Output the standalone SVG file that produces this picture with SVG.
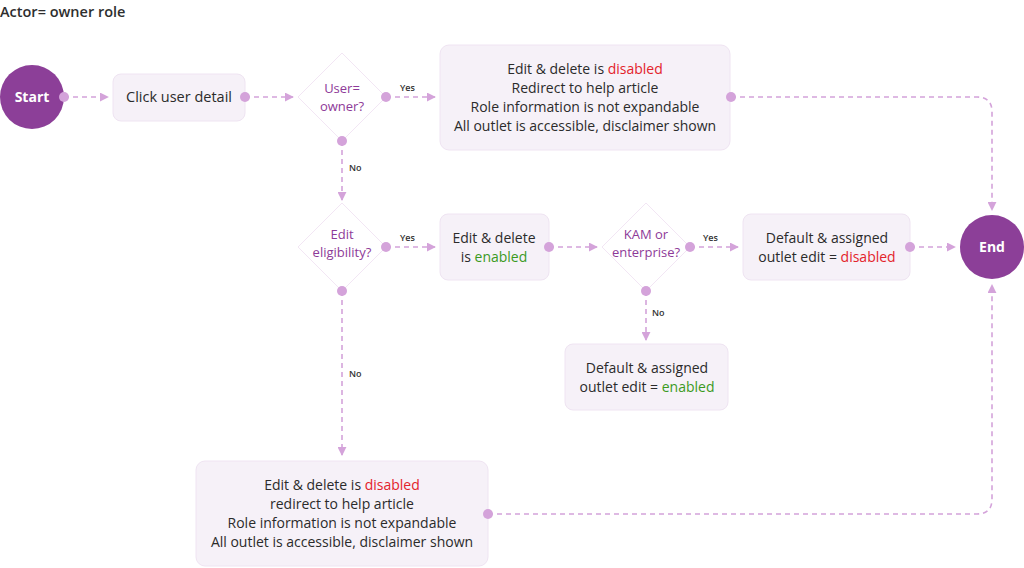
<svg xmlns="http://www.w3.org/2000/svg" width="1024" height="568" viewBox="0 0 1024 568">
<defs>
<marker id="arr" viewBox="0 0 10 10" refX="9" refY="5" markerWidth="9" markerHeight="9" markerUnits="userSpaceOnUse" orient="auto"><path d="M0,0 L10,5 L0,10 Z" fill="#d4a3da"/></marker>
<marker id="dot" viewBox="0 0 10 10" refX="5" refY="5" markerWidth="10" markerHeight="10" markerUnits="userSpaceOnUse"><circle cx="5" cy="5" r="5" fill="#d4a3da"/></marker>
</defs>
<style>
text{font-family:"Open Sans","Liberation Sans",sans-serif;}
.t{font-size:14px;fill:#2b2b2b;text-anchor:middle;}
.q{font-size:13px;fill:#8e3a98;text-anchor:middle;}
.lbl{font-size:9px;fill:#333;font-weight:600;}
.box{fill:#f6f1f8;stroke:#efe4f2;stroke-width:1;}
.dia{fill:#fff;stroke:#f2e6f4;stroke-width:1;}
.term{fill:#8c3f98;}
.tt{font-size:14px;fill:#fff;font-weight:700;text-anchor:middle;}
.c{fill:none;stroke:#d4a3da;stroke-width:1.6;stroke-dasharray:5 4;marker-start:url(#dot);marker-end:url(#arr);}
.red{fill:#e3232b;}
.grn{fill:#3b9a1e;}
</style>
<rect width="1024" height="568" fill="#fff"/>
<text x="0" y="17" style="font-size:14.5px;font-weight:600;fill:#2e2e2e">Actor= owner role</text>

<g id="start"><circle class="term" cx="32" cy="97" r="32"/><text class="tt" x="32" y="102">Start</text></g>

<g id="click"><rect class="box" x="113" y="74" width="132" height="47" rx="8"/><text class="t" x="179" y="102" style="font-size:14.5px">Click user detail</text></g>

<g id="d-owner"><path class="dia" d="M342,53 L386,97 L342,141 L298,97 Z"/>
<text class="q" x="342" y="93">User=</text><text class="q" x="342" y="111">owner?</text></g>

<g id="owner-yes"><rect class="box" x="440" y="45" width="290" height="105" rx="9"/>
<text class="t" x="585" y="74">Edit &amp; delete is <tspan class="red">disabled</tspan></text>
<text class="t" x="585" y="93">Redirect to help article</text>
<text class="t" x="585" y="112">Role information is not expandable</text>
<text class="t" x="585" y="131">All outlet is accessible, disclaimer shown</text></g>

<g id="d-elig"><path class="dia" d="M342,203 L386,247 L342,291 L298,247 Z"/>
<text class="q" x="342" y="239">Edit</text><text class="q" x="342" y="257">eligibility?</text></g>

<g id="enabled"><rect class="box" x="440" y="214" width="109" height="66" rx="8"/>
<text class="t" x="494" y="243">Edit &amp; delete</text>
<text class="t" x="494" y="262">is <tspan class="grn">enabled</tspan></text></g>

<g id="d-kam"><path class="dia" d="M646,203 L690,247 L646,291 L602,247 Z"/>
<text class="q" x="646" y="239">KAM or</text><text class="q" x="646" y="257">enterprise?</text></g>

<g id="kam-yes"><rect class="box" x="743" y="214" width="167" height="66" rx="8"/>
<text class="t" x="827" y="243">Default &amp; assigned</text>
<text class="t" x="827" y="262">outlet edit = <tspan class="red">disabled</tspan></text></g>

<g id="end"><circle class="term" cx="992" cy="247" r="32"/><text class="tt" x="992" y="252">End</text></g>

<g id="kam-no"><rect class="box" x="565" y="344" width="163" height="66" rx="8"/>
<text class="t" x="647" y="373">Default &amp; assigned</text>
<text class="t" x="647" y="392">outlet edit = <tspan class="grn">enabled</tspan></text></g>

<g id="elig-no"><rect class="box" x="196" y="461" width="292" height="105" rx="9"/>
<text class="t" x="342" y="490">Edit &amp; delete is <tspan class="red">disabled</tspan></text>
<text class="t" x="342" y="509">redirect to help article</text>
<text class="t" x="342" y="528">Role information is not expandable</text>
<text class="t" x="342" y="547">All outlet is accessible, disclaimer shown</text></g>

<g id="connectors">
<path class="c" d="M64,97 H108"/>
<path class="c" d="M245,97 H293"/>
<path class="c" d="M386,97 H435"/>
<path class="c" d="M731,97 H977 Q992,97 992,112 V210"/>
<path class="c" d="M342,141 V200"/>
<path class="c" d="M386,247 H435"/>
<path class="c" d="M549,247 H597"/>
<path class="c" d="M690,247 H738"/>
<path class="c" d="M910,247 H955"/>
<path class="c" d="M646,291 V340"/>
<path class="c" d="M342,291 V455"/>
<path class="c" d="M488,514 H977 Q992,514 992,499 V285"/>
<text class="lbl" x="400" y="91">Yes</text>
<text class="lbl" x="400" y="241">Yes</text>
<text class="lbl" x="703" y="241">Yes</text>
<text class="lbl" x="349" y="171">No</text>
<text class="lbl" x="349" y="377">No</text>
<text class="lbl" x="652" y="316">No</text>
</g>
</svg>
